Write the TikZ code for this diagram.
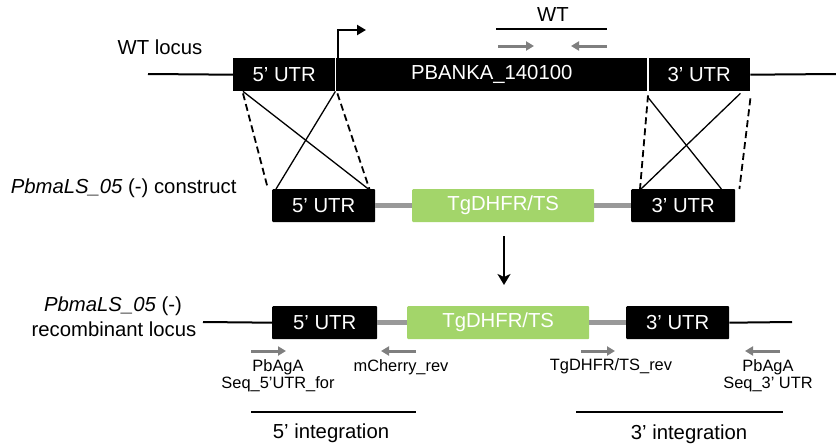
\documentclass[tikz,border=0pt]{standalone}
\usepackage{fontspec}
\setmainfont{Liberation Sans}
\usetikzlibrary{calc,arrows.meta}
\definecolor{gfp}{HTML}{A3D56A}
\definecolor{bbone}{HTML}{999999}
\definecolor{prim}{HTML}{7F7F7F}
\begin{document}
\begin{tikzpicture}[x=1pt,y=-1pt,
  big/.style={font=\fontsize{20.3}{23}\selectfont},
  small/.style={font=\fontsize{16.4}{18.5}\selectfont, align=center},
  blk/.style={big, fill=black, text=white, inner sep=0pt, anchor=north west, minimum height=33pt, rounded corners=1pt},
  grn/.style={blk, fill=gfp},
  locus/.style={line width=2pt},
  bb/.style={line width=4.5pt, draw=bbone},
  cross/.style={line width=1.3pt},
  dcross/.style={line width=1.8pt, dash pattern=on 7pt off 4pt},
  primer/.style={line width=3pt, draw=prim, -{Triangle[length=8pt,width=9pt]}},
  intg/.style={line width=2pt}
]
\useasboundingbox (0,0) rectangle (836,447);

% ---------------- WT locus ----------------
\node[big, anchor=center] (wtlab) at (160,47) {WT locus};
\coordinate (wtL) at (148,74);
\coordinate (wtR) at (836,74);
\node[blk, minimum width=102pt, rounded corners=0pt] (u5) at (233,58) {5’ UTR};
\node[blk, minimum width=313pt, rounded corners=0pt] (gene) at (335,58) {PBANKA\_140100};
\node[blk, minimum width=102pt, rounded corners=0pt] (u3) at (648,58) {3’ UTR};
\draw[locus] (wtL) -- (u5.west);
\draw[locus] (u3.east) -- (wtR);
\draw[white, line width=1.5pt] (u5.north east) -- (u5.south east);
\draw[white, line width=1.5pt] (u3.north west) -- (u3.south west);
% promoter arrow
\coordinate (prtip) at (366,30);
\draw[line width=2.3pt, -{Triangle[length=9pt,width=10pt]}] ($(gene.north west)+(3,0)$) |- (prtip);
% WT amplicon
\node[big] (wtt) at (553,15) {WT};
\coordinate (wta) at (496,29);
\coordinate (wtb) at (607,29);
\draw[intg] (wta) -- (wtb);
\coordinate (wpf1) at (498,46); \coordinate (wpf2) at (534,46);
\coordinate (wpr1) at (607,46); \coordinate (wpr2) at (571,46);
\draw[primer] (wpf1) -- (wpf2);
\draw[primer] (wpr1) -- (wpr2);

% ---------------- construct ----------------
\node[big, anchor=east] (clab) at (240,188) {\textit{PbmaLS\_05} (-) construct};
\node[blk, minimum width=103pt] (c5) at (272,189) {5’ UTR};
\node[grn, minimum width=182pt] (cg) at (412,189) {TgDHFR/TS};
\node[blk, minimum width=104pt] (c3) at (631,189) {3’ UTR};
\draw[bb] (c5.east) -- (cg.west);
\draw[bb] (cg.east) -- (c3.west);

% crossover lines 5'
\draw[dcross] ($(u5.south west)+(10,2)$) -- ($(c5.north west)+(-4,0)$);
\draw[cross] ($(u5.south west)+(10,0)$) -- ($(c5.north east)+(-7,0)$);
\draw[cross] (u5.south east) -- ($(c5.north west)+(4,0)$);
\draw[dcross] ($(u5.south east)+(2,2)$) -- ($(c5.north east)+(-6,0)$);
% crossover lines 3'
\draw[dcross] ($(u3.south west)+(0,4)$) -- ($(c3.north west)+(9,0)$);
\draw[cross] ($(u3.south west)+(0,6)$) -- ($(c3.north east)+(-14,0)$);
\draw[cross] ($(u3.south east)+(-10,2)$) -- ($(c3.north west)+(10,0)$);
\draw[dcross] ($(u3.south east)+(0,7)$) -- ($(c3.north east)+(4,0)$);

% down arrow
\coordinate (da1) at (504,236);
\coordinate (da2) at (504,285);
\draw[line width=2.5pt, -{Stealth[length=11pt,width=13pt,inset=3pt]}] (da1) -- (da2);

% ---------------- recombinant locus ----------------
\node[big, anchor=center] (rlab1) at (113,306) {\textit{PbmaLS\_05} (-)};
\node[big, anchor=center] (rlab2) at (114,329) {recombinant locus};
\coordinate (rL) at (203,322);
\coordinate (rR) at (792,322);
\node[blk, minimum width=105pt] (r5) at (272,306) {5’ UTR};
\node[grn, minimum width=182pt] (rg) at (407,306) {TgDHFR/TS};
\node[blk, minimum width=103pt] (r3) at (626,306) {3’ UTR};
\draw[locus] (rL) -- (r5.west);
\draw[bb] (r5.east) -- (rg.west);
\draw[bb] (rg.east) -- (r3.west);
\draw[locus] (r3.east) -- (rR);

% primers
\coordinate (p1a) at (251,351); \coordinate (p1b) at (286,351);
\coordinate (p2a) at (416,351); \coordinate (p2b) at (381,351);
\coordinate (p3a) at (581,351); \coordinate (p3b) at (615,351);
\coordinate (p4a) at (780,351); \coordinate (p4b) at (745,351);
\draw[primer] (p1a) -- (p1b);
\draw[primer] (p2a) -- (p2b);
\draw[primer] (p3a) -- (p3b);
\draw[primer] (p4a) -- (p4b);
\node[small] (t1) at (278,376) {PbAgA\\[-2pt]Seq\_5’UTR\_for};
\node[small] (t2) at (401,367) {mCherry\_rev};
\node[small] (t3) at (611,366) {TgDHFR/TS\_rev};
\node[small] (t4) at (768,376) {PbAgA\\[-2pt]Seq\_3’ UTR};

% integration amplicons
\coordinate (i5a) at (251,412); \coordinate (i5b) at (416,412);
\coordinate (i3a) at (576,412); \coordinate (i3b) at (783,412);
\draw[intg] (i5a) -- (i5b);
\draw[intg] (i3a) -- (i3b);
\node[big] (it5) at (331,433) {5’ integration};
\node[big] (it3) at (689,434) {3’ integration};
\end{tikzpicture}
\end{document}
